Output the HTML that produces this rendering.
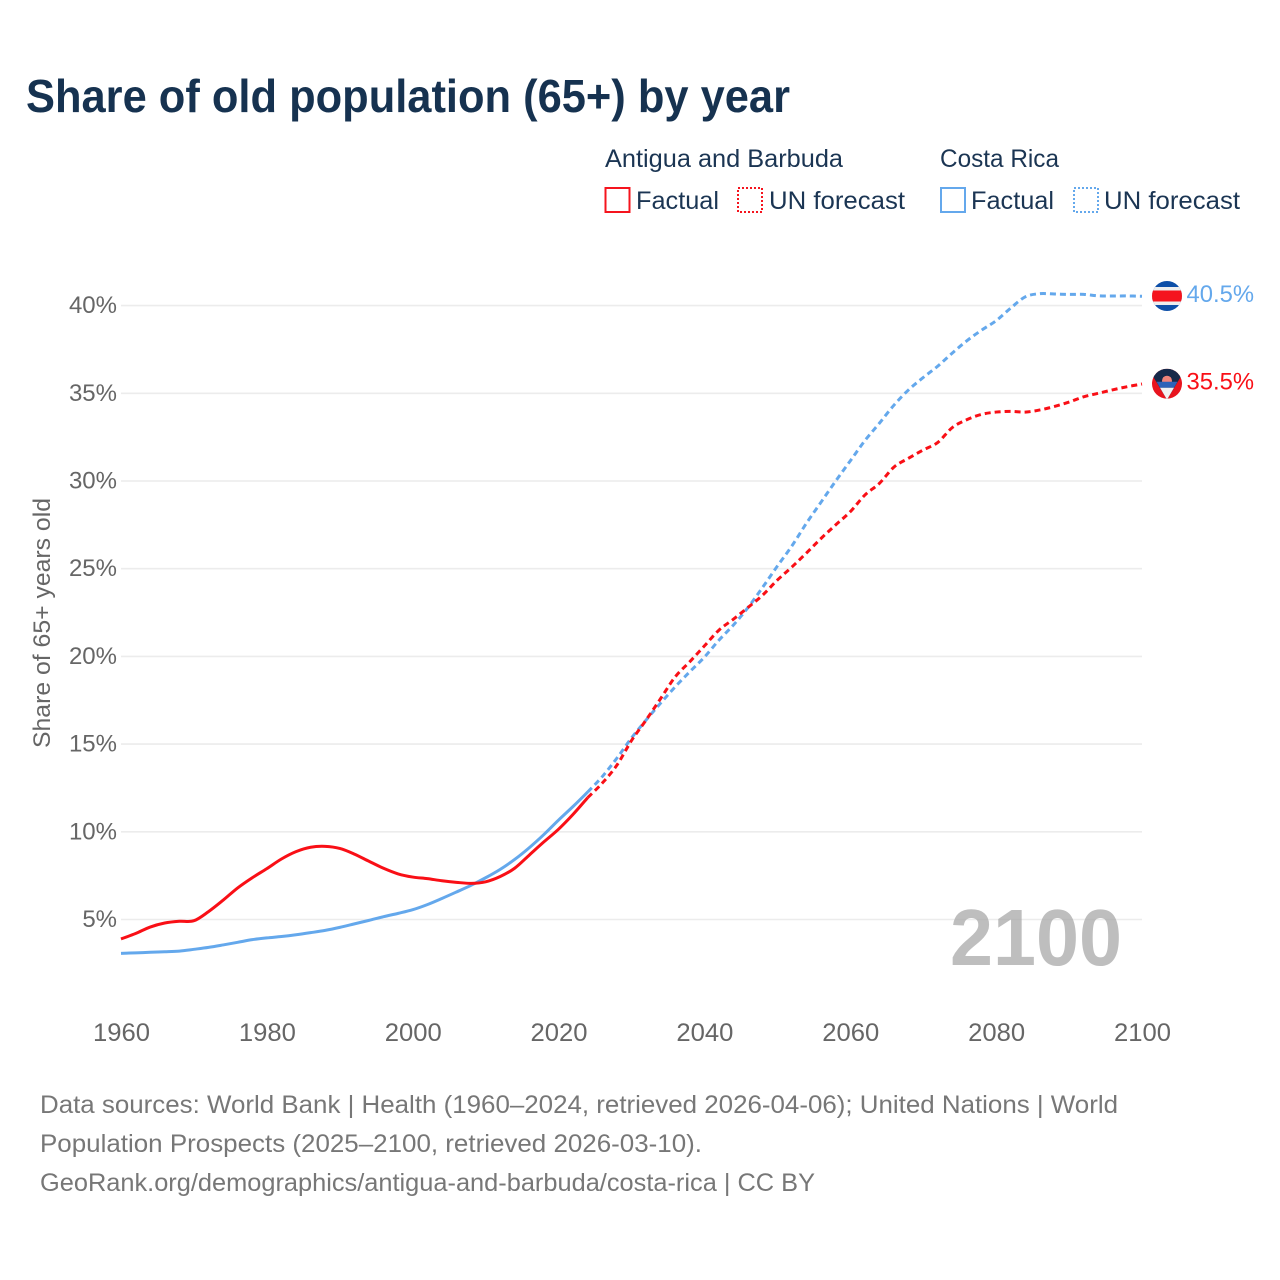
<!DOCTYPE html>
<html lang="en">
<head>
<meta charset="utf-8">
<title>Share of old population (65+) by year</title>
<style>
html,body{margin:0;padding:0;background:#fff;}
svg{display:block;font-family:"Liberation Sans",sans-serif;}
</style>
</head>
<body>
<svg id="chart" xmlns="http://www.w3.org/2000/svg" width="1280" height="1280" viewBox="0 0 1280 1280">
  <defs>
    <clipPath id="flag-clip"><circle cx="0" cy="0" r="15"/></clipPath>
  </defs>
  <rect x="0" y="0" width="1280" height="1280" fill="#ffffff"/>
  <text x="26" y="112" font-size="46" font-weight="700" fill="#163250" textLength="764" lengthAdjust="spacingAndGlyphs">Share of old population (65+) by year</text>

  <g font-size="25" fill="#1b3553">
    <text x="605" y="167" textLength="238" lengthAdjust="spacingAndGlyphs">Antigua and Barbuda</text>
    <text x="940" y="167" textLength="119" lengthAdjust="spacingAndGlyphs">Costa Rica</text>
    <rect x="605.5" y="188" width="24" height="24" fill="none" stroke="#f5141e" stroke-width="2"/>
    <text x="636" y="209" textLength="83" lengthAdjust="spacingAndGlyphs">Factual</text>
    <rect x="738" y="188" width="24" height="24" fill="none" stroke="#f5141e" stroke-width="2" stroke-dasharray="2 2"/>
    <text x="769" y="209" textLength="136" lengthAdjust="spacingAndGlyphs">UN forecast</text>
    <rect x="941" y="188" width="24" height="24" fill="none" stroke="#64a8ec" stroke-width="2"/>
    <text x="971" y="209" textLength="83" lengthAdjust="spacingAndGlyphs">Factual</text>
    <rect x="1074" y="188" width="24" height="24" fill="none" stroke="#64a8ec" stroke-width="2" stroke-dasharray="2 2"/>
    <text x="1104" y="209" textLength="136" lengthAdjust="spacingAndGlyphs">UN forecast</text>
  </g>

  <g id="grid"></g>
  <g id="y-ticks" font-size="24" fill="#666"></g>
  <g id="x-ticks" font-size="25" fill="#666"></g>
  <text transform="translate(50 623) rotate(-90)" text-anchor="middle" font-size="24" fill="#666" textLength="250" lengthAdjust="spacingAndGlyphs">Share of 65+ years old</text>

  <text x="950" y="965" font-size="80" font-weight="700" fill="#a8a8a8" fill-opacity="0.75" textLength="172" lengthAdjust="spacingAndGlyphs">2100</text>

  <g id="series"></g>

  <g id="flag-cr" clip-path="url(#flag-clip)">
    <rect x="-15" y="-15" width="30" height="30" fill="#0d4fa8"/>
    <rect x="-15" y="-9" width="30" height="18" fill="#eeeeee"/>
    <rect x="-15" y="-5.5" width="30" height="11" fill="#f5141e"/>
  </g>
  <g id="flag-ag" clip-path="url(#flag-clip)">
    <rect x="-15" y="-15" width="30" height="30" fill="#e8141e"/>
    <polygon points="-15,-15 15,-15 15,-9 0,16 -15,-9" fill="#16294a"/>
    <circle cx="0" cy="-3" r="5" fill="#f0837a"/>
    <polygon points="-10.5,-2 10.5,-2 7,4 -7,4" fill="#2d62b8"/>
    <polygon points="-7,4 7,4 0,16" fill="#f2f2f2"/>
  </g>
  <g id="end-labels" font-size="24"></g>

  <g font-size="25" fill="#777">
    <text x="40" y="1113" textLength="1078" lengthAdjust="spacingAndGlyphs">Data sources: World Bank | Health (1960–2024, retrieved 2026-04-06); United Nations | World</text>
    <text x="40" y="1152" textLength="662" lengthAdjust="spacingAndGlyphs">Population Prospects (2025–2100, retrieved 2026-03-10).</text>
    <text x="40" y="1191" textLength="775" lengthAdjust="spacingAndGlyphs">GeoRank.org/demographics/antigua-and-barbuda/costa-rica | CC BY</text>
  </g>
</svg>
<script>
const years = [1960,1962,1964,1966,1968,1970,1972,1974,1976,1978,1980,1982,1984,1986,1988,1990,1992,1994,1996,1998,2000,2002,2004,2006,2008,2010,2012,2014,2016,2018,2020,2022,2024,2026,2028,2030,2032,2034,2036,2038,2040,2042,2044,2046,2048,2050,2052,2054,2056,2058,2060,2062,2064,2066,2068,2070,2072,2074,2076,2078,2080,2082,2084,2086,2088,2090,2092,2094,2096,2098,2100];
const antiguaValues = [3.89,4.2,4.57,4.8,4.9,4.93,5.45,6.1,6.8,7.38,7.9,8.45,8.87,9.12,9.17,9.05,8.73,8.32,7.92,7.6,7.42,7.33,7.21,7.12,7.06,7.15,7.45,7.93,8.68,9.43,10.15,11.0,11.95,12.78,13.8,15.2,16.37,17.6,18.84,19.7,20.6,21.5,22.13,22.8,23.5,24.35,25.1,25.9,26.73,27.5,28.25,29.2,29.87,30.8,31.3,31.77,32.2,33.05,33.5,33.8,33.93,33.97,33.93,34.05,34.25,34.5,34.8,35.0,35.2,35.38,35.53];
const costaRicaValues = [3.07,3.1,3.13,3.16,3.2,3.3,3.41,3.55,3.7,3.85,3.95,4.03,4.13,4.25,4.38,4.55,4.75,4.95,5.16,5.35,5.56,5.85,6.2,6.57,6.95,7.38,7.86,8.43,9.1,9.85,10.67,11.45,12.27,13.15,14.2,15.35,16.37,17.34,18.27,19.13,19.96,20.93,21.8,22.8,23.95,25.15,26.3,27.6,28.8,30.0,31.15,32.3,33.3,34.33,35.2,35.9,36.55,37.3,38,38.6,39.14,39.86,40.5,40.68,40.66,40.64,40.64,40.56,40.55,40.55,40.53];
const lastFactualYear = 2024;
const yTickValues = [5,10,15,20,25,30,35,40];
const xTickValues = [1960,1980,2000,2020,2040,2060,2080,2100];

const NS = 'http://www.w3.org/2000/svg';
const x = function (year) { return 121 + (year - 1960) * (1021 / 140); };
const y = function (value) { return 919.5 - (value - 5) * 17.54; };

function make(tag, attrs, parent) {
  const el = document.createElementNS(NS, tag);
  Object.keys(attrs).forEach(function (k) { el.setAttribute(k, attrs[k]); });
  parent.appendChild(el);
  return el;
}

function smoothPath(pts) {
  let d = 'M' + pts[0][0].toFixed(2) + ' ' + pts[0][1].toFixed(2);
  for (let i = 0; i < pts.length - 1; i++) {
    const p0 = pts[Math.max(i - 1, 0)];
    const p1 = pts[i];
    const p2 = pts[i + 1];
    const p3 = pts[Math.min(i + 2, pts.length - 1)];
    const c1x = p1[0] + (p2[0] - p0[0]) / 6;
    const c1y = p1[1] + (p2[1] - p0[1]) / 6;
    const c2x = p2[0] - (p3[0] - p1[0]) / 6;
    const c2y = p2[1] - (p3[1] - p1[1]) / 6;
    d += 'C' + c1x.toFixed(2) + ' ' + c1y.toFixed(2) + ' ' + c2x.toFixed(2) + ' ' + c2y.toFixed(2) + ' ' + p2[0].toFixed(2) + ' ' + p2[1].toFixed(2);
  }
  return d;
}

const grid = document.getElementById('grid');
const yTicks = document.getElementById('y-ticks');
yTickValues.forEach(function (v) {
  const line = make('line', {x1: x(1960), x2: x(2100), y1: y(v), y2: y(v), stroke: '#ececec', 'stroke-width': 1.6}, grid);
  
  
  const label = make('text', {x: 117, y: y(v) + 7.5, 'text-anchor': 'end'}, yTicks);
  
  
  label.textContent = v + '%';
});

const xTicks = document.getElementById('x-ticks');
xTickValues.forEach(function (t) {
  const label = make('text', {x: x(t) + 0.5, y: 1041, 'text-anchor': 'middle', textLength: 57, lengthAdjust: 'spacingAndGlyphs'}, xTicks);
  
  
  label.textContent = t;
});

const seriesGroup = document.getElementById('series');
function drawSeries(values, color, key) {
  const factual = [];
  const forecast = [];
  years.forEach(function (yr, i) {
    const pt = [x(yr), y(values[i])];
    if (yr <= lastFactualYear) factual.push(pt);
    if (yr >= lastFactualYear) forecast.push(pt);
  });
  const solid = make('path', {d: smoothPath(factual), fill: 'none', stroke: color, 'stroke-width': 3, 'stroke-linejoin': 'round'}, seriesGroup);
  
  
  const dashed = make('path', {d: smoothPath(forecast), fill: 'none', stroke: color, 'stroke-width': 3, 'stroke-dasharray': '6 4'}, seriesGroup);
  
  
}
drawSeries(costaRicaValues, '#64a8ec', 'costa-rica');
drawSeries(antiguaValues, '#f90f16', 'antigua');

const endLabels = document.getElementById('end-labels');
function endMarker(values, color, flagId, key) {
  const last = values[values.length - 1];
  const lastYear = years[years.length - 1];
  document.getElementById(flagId).setAttribute('transform', 'translate(' + (x(lastYear) + 25) + ' ' + (y(last) - 0.3) + ')');
  const label = make('text', {x: x(lastYear) + 44.5, y: y(last) + 5.5, fill: color, textLength: 67.5, lengthAdjust: 'spacingAndGlyphs'}, endLabels);
  
  
  label.textContent = last.toFixed(1) + '%';
}
endMarker(costaRicaValues, '#64a8ec', 'flag-cr', 'costa-rica');
endMarker(antiguaValues, '#f90f16', 'flag-ag', 'antigua');
</script>
</body>
</html>
